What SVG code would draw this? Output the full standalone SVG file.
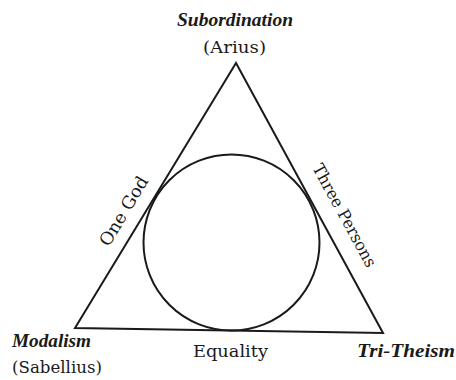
<svg xmlns="http://www.w3.org/2000/svg" width="456" height="380" viewBox="0 0 456 380">
<style>
.ln{fill:none;stroke:#1a1a1a;stroke-width:2;stroke-linejoin:miter}
.it{font-family:"Liberation Serif","DejaVu Serif",serif;font-style:italic;font-weight:bold;fill:#1a1a1a}
.rg{font-family:"DejaVu Serif","Liberation Serif",serif;fill:#1a1a1a}
</style>
<rect width="456" height="380" fill="#fff"/>
<g id="connectors">
<polygon class="ln" points="236,63 383,333 75,328"/>
</g>
<g id="circle">
<circle class="ln" cx="231.5" cy="242.5" r="88" stroke-width="1.8"/>
</g>
<g id="subordination">
<text class="it" x="235" y="26" font-size="18" text-anchor="middle" textLength="116" lengthAdjust="spacingAndGlyphs">Subordination</text>
<text class="rg" x="234.5" y="53" font-size="16.5" text-anchor="middle" textLength="63" lengthAdjust="spacingAndGlyphs">(Arius)</text>
</g>
<g id="modalism">
<text class="it" x="12" y="347" font-size="18" textLength="79" lengthAdjust="spacingAndGlyphs">Modalism</text>
<text class="rg" x="12" y="373" font-size="16.5" textLength="90" lengthAdjust="spacingAndGlyphs">(Sabellius)</text>
</g>
<g id="tritheism">
<text class="it" x="357" y="357" font-size="18" textLength="98" lengthAdjust="spacingAndGlyphs">Tri-Theism</text>
</g>
<g id="equality">
<text class="rg" x="230.5" y="357" font-size="17.5" text-anchor="middle" textLength="75" lengthAdjust="spacingAndGlyphs">Equality</text>
</g>
<g id="onegod">
<text class="rg" transform="translate(128.8,214.2) rotate(-58.9)" font-size="17.5" text-anchor="middle" textLength="78" lengthAdjust="spacingAndGlyphs">One God</text>
</g>
<g id="threepersons">
<text class="rg" transform="translate(339.5,218.1) rotate(61.3)" font-size="16.5" text-anchor="middle" textLength="115" lengthAdjust="spacingAndGlyphs">Three Persons</text>
</g>
</svg>
